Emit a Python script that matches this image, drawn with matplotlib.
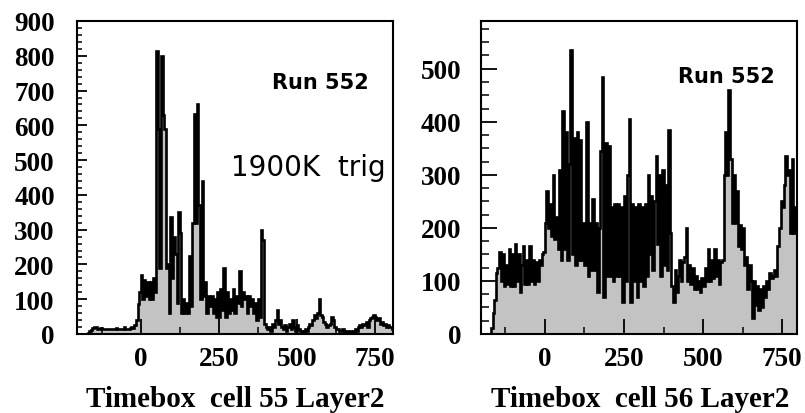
import numpy as np
import matplotlib
matplotlib.use("Agg")
import matplotlib.pyplot as plt
from matplotlib.ticker import MultipleLocator

# ---------------- data (5-unit timebox bins starting at -170) ----------------
bin_start = -170
bin_width = 5

cell55 = [
    3, 8, 12, 18, 20, 20, 15, 15, 18, 15,            # -170
    15, 15, 15, 15, 15, 15, 15, 15, 18, 15,          # -120
    15, 15, 15, 20, 15, 15, 15, 18, 20, 18,          # -70
    25, 40, 85, 120, 170, 100, 155, 110, 150, 100,   # -20
    150, 100, 160, 120, 815, 590, 190, 800, 630, 590,  # 30
    190, 200, 60, 335, 160, 280, 230, 90, 350, 290,  # 80
    60, 100, 60, 90, 60, 225, 80, 320, 632, 320,     # 130
    660, 370, 100, 441, 110, 150, 60, 110, 80, 110,  # 180
    60, 100, 50, 120, 50, 130, 70, 190, 50, 120,     # 230
    60, 100, 70, 130, 60, 110, 90, 180, 80, 120,     # 280
    100, 110, 60, 110, 80, 100, 60, 90, 40, 100,     # 330
    50, 300, 270, 30, 20, 15, 20, 10, 30, 20,        # 380
    40, 70, 30, 40, 20, 15, 25, 10, 20, 30,          # 430
    15, 40, 20, 10, 25, 15, 10, 5, 10, 15,           # 480
    10, 20, 30, 25, 40, 55, 45, 60, 100, 55,         # 530
    50, 35, 30, 20, 25, 30, 50, 40, 20, 15,          # 580
    15, 10, 10, 15, 10, 5, 10, 5, 10, 5,             # 630
    10, 15, 10, 20, 25, 20, 30, 25, 35, 20,          # 680
    40, 45, 50, 55, 50, 40, 45, 30, 35, 25,          # 730
    30, 20, 25, 20, 20, 15,                          # 780
]

cell56 = [
    12, 40, 65, 115, 125, 155, 100, 150, 90, 130,     # -170
    95, 160, 90, 150, 90, 170, 100, 150, 80, 130,     # -120
    165, 95, 140, 95, 165, 100, 140, 95, 135, 100,    # -70
    140, 130, 150, 155, 210, 270, 200, 245, 185, 300, # -20
    180, 220, 160, 310, 140, 420, 160, 380, 140, 320, # 30
    535, 150, 370, 130, 380, 140, 365, 140, 210, 130, # 80
    400, 110, 210, 120, 255, 120, 210, 80, 200, 345,  # 130
    485, 70, 360, 110, 355, 110, 240, 100, 245, 110,  # 180
    245, 110, 240, 60, 260, 100, 300, 405, 60, 245,   # 230
    100, 240, 70, 245, 100, 240, 90, 245, 110, 300,   # 280
    150, 260, 120, 250, 335, 170, 300, 110, 310, 130, # 330
    280, 120, 385, 190, 90, 60, 120, 80, 110, 140,    # 380
    100, 135, 145, 200, 100, 130, 95, 125, 85, 110,   # 430
    85, 100, 80, 105, 90, 125, 100, 160, 100, 140,    # 480
    105, 160, 110, 140, 95, 135, 140, 300, 380, 300,  # 530
    460, 330, 210, 300, 210, 270, 165, 205, 160, 200, # 580
    130, 145, 85, 130, 100, 30, 100, 55, 90, 45,      # 630
    85, 50, 90, 70, 100, 85, 115, 105, 110, 120,      # 680
    110, 165, 200, 250, 240, 280, 335, 300, 310, 190, # 730
    330, 190, 240, 235,                               # 780
]

x_ticks = [0, 250, 500, 750]
x_tick_labels = ["0", "250", "500", "750"]
xlabels = ["Timebox  cell 55 Layer2", "Timebox  cell 56 Layer2"]
run_label = "Run 552"
trig_label = "1900K  trig"

# ---------------- figure ----------------
W, H = 805, 414
fig = plt.figure(figsize=(W / 100, H / 100), dpi=100)

gray = "#c3c3c3"
serif = ["Liberation Serif", "DejaVu Serif"]

def px_axes(x0, y0, x1, y1):
    return fig.add_axes([x0 / W, 1 - y1 / H, (x1 - x0) / W, (y1 - y0) / H])

def draw(ax, vals, xlim, ylim, ymajor, yminor, maj_len, min_len, ylabelpad):
    vals = np.asarray(vals, dtype=float)
    edges = bin_start + bin_width * np.arange(len(vals) + 1)
    ax.stairs(vals, edges, fill=True, color=gray, baseline=0)
    ax.stairs(vals, edges, color="black", lw=1.9, baseline=0)
    ax.set_xlim(*xlim)
    ax.set_ylim(*ylim)
    ax.set_xticks(x_ticks)
    ax.set_xticklabels(x_tick_labels)
    ax.xaxis.set_minor_locator(MultipleLocator(125))
    ax.yaxis.set_major_locator(MultipleLocator(ymajor))
    ax.yaxis.set_minor_locator(MultipleLocator(yminor))
    ax.tick_params(axis="both", which="major", direction="in", width=1.3,
                   top=False, right=False)
    ax.tick_params(axis="both", which="minor", direction="in", width=1.1,
                   top=False, right=False)
    ax.tick_params(axis="x", which="major", length=15 * 0.72, pad=9)
    ax.tick_params(axis="x", which="minor", length=7 * 0.72)
    ax.tick_params(axis="y", which="major", length=maj_len * 0.72, pad=ylabelpad)
    ax.tick_params(axis="y", which="minor", length=min_len * 0.72)
    for lab in ax.get_xticklabels() + ax.get_yticklabels():
        lab.set_fontfamily(serif)
        lab.set_fontweight("bold")
        lab.set_fontsize(19.5)
    for s in ax.spines.values():
        s.set_linewidth(1.5)
    ax.set_facecolor("white")

ax1 = px_axes(77, 22, 393, 335)
draw(ax1, cell55, (-204, 808), (0, 900), 100, 20, 10, 5, 16)

ax2 = px_axes(481, 22, 797, 335)
draw(ax2, cell56, (-202, 797), (0, 590), 100, 25, 16, 8, 14)

# annotations
fig.text(320 / W, 1 - 83 / H, run_label, ha="center", va="center",
         fontsize=15, fontweight="bold", family="DejaVu Sans")
fig.text(726 / W, 1 - 77 / H, run_label, ha="center", va="center",
         fontsize=15, fontweight="bold", family="DejaVu Sans")
fig.text(308 / W, 1 - 168 / H, trig_label, ha="center", va="center",
         fontsize=20, family="DejaVu Sans")

fig.text(235 / W, 1 - 400 / H, xlabels[0], ha="center", va="center",
         fontsize=21, fontweight="bold", family=serif)
fig.text(640 / W, 1 - 400 / H, xlabels[1], ha="center", va="center",
         fontsize=21, fontweight="bold", family=serif)

fig.savefig("out.png", dpi=100)
